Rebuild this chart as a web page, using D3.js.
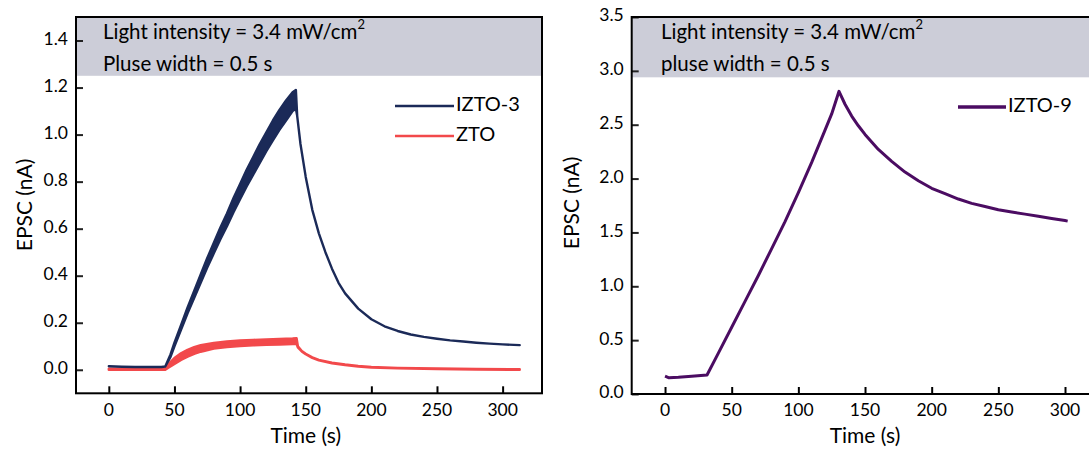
<!DOCTYPE html>
<html>
<head>
<meta charset="utf-8">
<script src="https://cdn.jsdelivr.net/npm/d3@7"></script>
<style>
    html, body { margin: 0; padding: 0; background: #fff; }
    svg { display: block; font-family: Lato, "Open Sans", sans-serif; }
</style>
</head>
<body>
<svg id="chart" width="1089" height="450"></svg>
<script>
// ---- data ----
const xTicks = [0, 50, 100, 150, 200, 250, 300];
const leftYTicks = [0.0, 0.2, 0.4, 0.6, 0.8, 1.0, 1.2, 1.4];
const rightYTicks = [0.0, 0.5, 1.0, 1.5, 2.0, 2.5, 3.0, 3.5];

// IZTO-3: thick band while pulsing, so keep an upper and lower envelope
const izto3Time  = [0, 10, 20, 30, 40, 43, 47, 50, 55, 60, 65, 70, 75, 80, 85, 90, 95, 100, 105, 110, 115, 120, 125, 130, 135, 140, 142.5, 143.5, 146, 150, 155, 160, 165, 170, 175, 180, 190, 200, 210, 220, 230, 240, 250, 260, 270, 280, 290, 300, 313];
const izto3Upper = [0.015, 0.013, 0.012, 0.012, 0.012, 0.014, 0.065, 0.115, 0.19, 0.265, 0.335, 0.405, 0.475, 0.54, 0.605, 0.665, 0.73, 0.79, 0.85, 0.905, 0.96, 1.01, 1.06, 1.105, 1.145, 1.18, 1.19, 1.08, 0.96, 0.82, 0.68, 0.58, 0.50, 0.43, 0.37, 0.325, 0.26, 0.215, 0.185, 0.165, 0.15, 0.14, 0.132, 0.125, 0.12, 0.115, 0.111, 0.108, 0.105];
const izto3Lower = [0.015, 0.013, 0.012, 0.012, 0.012, 0.014, 0.055, 0.1, 0.17, 0.24, 0.305, 0.37, 0.435, 0.495, 0.555, 0.61, 0.67, 0.725, 0.78, 0.83, 0.88, 0.93, 0.975, 1.02, 1.06, 1.1, 1.11, 1.08, 0.96, 0.82, 0.68, 0.58, 0.50, 0.43, 0.37, 0.325, 0.26, 0.215, 0.185, 0.165, 0.15, 0.14, 0.132, 0.125, 0.12, 0.115, 0.111, 0.108, 0.105];

// ZTO
const ztoTime  = [0, 20, 43, 45, 50, 55, 60, 65, 70, 80, 90, 100, 110, 120, 130, 140, 143, 144, 147, 150, 155, 160, 170, 180, 190, 200, 220, 250, 280, 313];
const ztoUpper = [0.004, 0.004, 0.005, 0.022, 0.05, 0.07, 0.085, 0.096, 0.104, 0.114, 0.12, 0.124, 0.127, 0.129, 0.131, 0.133, 0.134, 0.1, 0.08, 0.068, 0.053, 0.042, 0.03, 0.022, 0.016, 0.012, 0.008, 0.005, 0.003, 0.002];
const ztoLower = [0, 0, 0, 0.008, 0.025, 0.042, 0.056, 0.068, 0.077, 0.09, 0.097, 0.101, 0.104, 0.106, 0.108, 0.11, 0.11, 0.095, 0.078, 0.066, 0.051, 0.04, 0.028, 0.02, 0.014, 0.01, 0.006, 0.003, 0.001, 0];

// IZTO-9
const izto9Time  = [0, 3, 10, 20, 31.5, 40, 50, 60, 70, 80, 90, 100, 110, 120, 125, 130.5, 135, 140, 145, 150, 160, 170, 180, 190, 200, 210, 220, 230, 240, 250, 260, 270, 280, 290, 300, 302];
const izto9Value = [0.165, 0.15, 0.155, 0.165, 0.176, 0.38, 0.62, 0.86, 1.1, 1.35, 1.6, 1.87, 2.15, 2.45, 2.6, 2.81, 2.69, 2.58, 2.49, 2.41, 2.27, 2.16, 2.06, 1.98, 1.91, 1.86, 1.81, 1.77, 1.74, 1.71, 1.69, 1.67, 1.65, 1.63, 1.61, 1.605];

const colors = { izto3: "#1b2a58", zto: "#f2494b", izto9: "#4b0c62", band: "#cccdd8" };

(function drawPanels() {
    const svg = d3.select("#chart");

    function panel(opts) {
        const x = d3.scaleLinear().domain(opts.xDomain).range(opts.xRange);
        const y = d3.scaleLinear().domain(opts.yDomain).range(opts.yRange);
        const g = svg.append("g");
        const [x0, x1] = opts.xRange;
        const [yb, yt] = opts.yRange;

        // grey info band at the top of the frame
        g.append("rect")
            .attr("x", x0)
            .attr("y", yt)
            .attr("width", x1 - x0)
            .attr("height", y(opts.bandFrom) - yt)
            .attr("fill", colors.band);

        // inward ticks
        g.append("g")
            .attr("transform", `translate(0,${yb})`)
            .call(d3.axisTop(x).tickValues(xTicks).tickSize(7).tickFormat(""))
            .call(a => a.select(".domain").remove())
            .selectAll("line").attr("stroke", "#000").attr("stroke-width", 2);

        g.append("g")
            .attr("transform", `translate(${x0},0)`)
            .call(d3.axisRight(y).tickValues(opts.yTicks).tickSize(7).tickFormat(""))
            .call(a => a.select(".domain").remove())
            .selectAll("line").attr("stroke", "#222").attr("stroke-width", 2);

        // tick labels
        g.selectAll(".xl")
            .data(xTicks)
            .enter().append("text")
            .attr("x", d => x(d))
            .attr("y", yb + 18)
            .attr("text-anchor", "middle")
            .attr("dominant-baseline", "middle")
            .style("font-size", "17.5px")
            .attr("fill", "#000")
            .text(d => d);

        g.selectAll(".yl")
            .data(opts.yTicks)
            .enter().append("text")
            .attr("x", x0 - 8)
            .attr("y", d => y(d))
            .attr("text-anchor", "end")
            .attr("dominant-baseline", "middle")
            .style("font-size", "17.5px")
            .attr("fill", "#000")
            .text(d => d3.format(".1f")(d));

        // axis titles
        g.append("text")
            .attr("x", x(150))
            .attr("y", yb + 44)
            .attr("text-anchor", "middle")
            .attr("dominant-baseline", "middle")
            .style("font-size", "21px")
            .text("Time (s)");

        g.append("text")
            .attr("transform", `translate(${opts.yTitleX},${opts.yTitleY}) rotate(-90)`)
            .attr("text-anchor", "middle")
            .attr("dominant-baseline", "middle")
            .style("font-size", "21px")
            .text("EPSC (nA)");

        // band text
        const t1 = g.append("text")
            .attr("x", opts.noteX)
            .attr("y", 34)
            .attr("dominant-baseline", "middle")
            .style("font-size", "20.5px");
        t1.append("tspan").text("Light intensity = 3.4 mW/cm");
        t1.append("tspan").attr("dy", -8).style("font-size", "13px").text("2");

        g.append("text")
            .attr("x", opts.noteX)
            .attr("y", 66)
            .attr("dominant-baseline", "middle")
            .style("font-size", "20.5px")
            .text(opts.note2);

        return { g, x, y, frame: [x0, x1, yb, yt] };
    }

    function frame(p) {
        const [x0, x1, yb, yt] = p.frame;
        p.g.append("rect")
            .attr("x", x0)
            .attr("y", yt)
            .attr("width", x1 - x0)
            .attr("height", yb - yt)
            .attr("fill", "none")
            .attr("stroke", "#000")
            .attr("stroke-width", 2);
    }

    function legend(p, items, lx0, lx1) {
        items.forEach(it => {
            p.g.append("line")
                .attr("x1", lx0).attr("x2", lx1)
                .attr("y1", it.y).attr("y2", it.y)
                .attr("stroke", it.color)
                .attr("stroke-width", it.width);
            p.g.append("text")
                .attr("x", lx1 + 2)
                .attr("y", it.y)
                .attr("dominant-baseline", "middle")
                .style("font-size", "20px")
                .text(it.name);
        });
    }

    // ---- left panel ----
    const left = panel({
        xDomain: [-25, 330], xRange: [76, 542],
        yDomain: [-0.1, 1.5], yRange: [393.3, 17],
        yTicks: leftYTicks, bandFrom: 1.25,
        yTitleX: 27, yTitleY: 205,
        noteX: 103, note2: "Pluse width = 0.5 s"
    });

    const band = (t, up, lo, p) => d3.area()
        .x((d, i) => p.x(t[i]))
        .y0((d, i) => p.y(lo[i]))
        .y1((d, i) => p.y(up[i]))(t);

    left.g.append("path")
        .attr("d", band(ztoTime, ztoUpper, ztoLower, left))
        .attr("fill", colors.zto)
        .attr("stroke", colors.zto)
        .attr("stroke-width", 2.5)
        .attr("stroke-linejoin", "round");

    left.g.append("path")
        .attr("d", band(izto3Time, izto3Upper, izto3Lower, left))
        .attr("fill", colors.izto3)
        .attr("stroke", colors.izto3)
        .attr("stroke-width", 2.4)
        .attr("stroke-linejoin", "round");

    frame(left);
    legend(left, [
        { name: "IZTO-3", color: colors.izto3, width: 2.5, y: 106 },
        { name: "ZTO", color: colors.zto, width: 2.5, y: 136 }
    ], 395, 454);

    // ---- right panel ----
    const right = panel({
        xDomain: [-25, 330], xRange: [631.7, 1105],
        yDomain: [0, 3.5], yRange: [394, 17],
        yTicks: rightYTicks, bandFrom: 2.94,
        yTitleX: 574, yTitleY: 203,
        noteX: 661, note2: "pluse width = 0.5 s"
    });

    right.g.append("path")
        .datum(izto9Time.map((t, i) => [t, izto9Value[i]]))
        .attr("d", d3.line().x(d => right.x(d[0])).y(d => right.y(d[1])))
        .attr("fill", "none")
        .attr("stroke", colors.izto9)
        .attr("stroke-width", 3)
        .attr("stroke-linejoin", "round");

    frame(right);
    legend(right, [
        { name: "IZTO-9", color: colors.izto9, width: 3.5, y: 107 }
    ], 958, 1006);
})();
</script>
</body>
</html>
